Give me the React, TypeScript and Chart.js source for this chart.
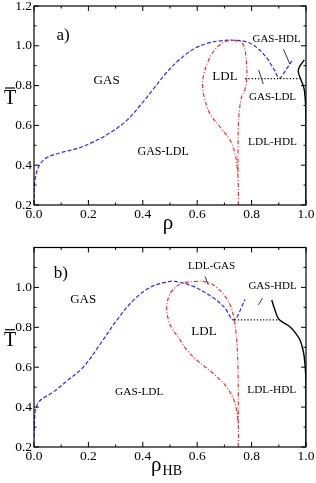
import React, { useEffect, useRef } from 'react';
import { Chart, registerables } from 'chart.js';
Chart.register(...registerables);

const FONT = "'Liberation Serif', 'DejaVu Serif', serif";

// ---------- Panel a data ----------
const aBlueX = [0.0, 0.001, 0.007, 0.02, 0.047, 0.096, 0.157, 0.218, 0.279, 0.341, 0.39, 0.439, 0.488, 0.537, 0.586, 0.635, 0.684, 0.733, 0.782, 0.82, 0.855, 0.885, 0.902, 0.929, 0.953];
const aBlueY = [0.205, 0.29, 0.35, 0.40, 0.438, 0.462, 0.483, 0.517, 0.562, 0.625, 0.70, 0.783, 0.867, 0.933, 0.983, 1.012, 1.025, 1.028, 1.02, 0.99, 0.94, 0.875, 0.837, 0.885, 0.935];
const aRedX = [0.751, 0.751, 0.747, 0.739, 0.721, 0.684, 0.647, 0.629, 0.62, 0.622, 0.641, 0.672, 0.705, 0.727, 0.763, 0.776, 0.782, 0.782, 0.776, 0.763, 0.755, 0.751, 0.75, 0.75];
const aRedY = [0.2, 0.30, 0.39, 0.458, 0.525, 0.592, 0.658, 0.725, 0.792, 0.842, 0.925, 0.992, 1.022, 1.028, 1.017, 0.975, 0.892, 0.833, 0.783, 0.742, 0.675, 0.592, 0.475, 0.35];
const aDotX = [0.776, 0.978];
const aDotY = [0.835, 0.835];
const aBlackX = [0.994, 0.975, 0.972, 0.98, 0.99, 0.995, 0.999, 1.0, 1.0];
const aBlackY = [0.929, 0.892, 0.867, 0.834, 0.80, 0.767, 0.692, 0.6, 0.2];

// ---------- Panel b data ----------
const bBlueX = [0.0, 0.002, 0.006, 0.022, 0.071, 0.12, 0.181, 0.243, 0.304, 0.365, 0.426, 0.488, 0.52, 0.586, 0.659, 0.70, 0.735, 0.776];
const bBlueY = [0.25, 0.33, 0.39, 0.432, 0.476, 0.53, 0.60, 0.715, 0.835, 0.935, 1.0, 1.027, 1.03, 1.005, 0.948, 0.90, 0.837, 0.94];
const bRedX = [0.751, 0.751, 0.739, 0.708, 0.659, 0.598, 0.56, 0.537, 0.505, 0.494, 0.488, 0.497, 0.512, 0.535, 0.561, 0.60, 0.622, 0.65, 0.672, 0.70, 0.72, 0.733, 0.742, 0.747, 0.75, 0.751, 0.751];
const bRedY = [0.2, 0.30, 0.418, 0.501, 0.569, 0.636, 0.69, 0.736, 0.80, 0.837, 0.90, 0.96, 0.99, 1.015, 1.026, 1.03, 1.03, 1.02, 1.0, 0.96, 0.915, 0.86, 0.78, 0.70, 0.58, 0.45, 0.30];
const bDotX = [0.737, 0.90];
const bDotY = [0.837, 0.837];
const bBlackX = [0.874, 0.885, 0.898, 0.915, 0.941, 0.962, 0.978, 0.99, 0.996, 1.0, 1.0];
const bBlackY = [0.937, 0.89, 0.845, 0.825, 0.803, 0.77, 0.736, 0.68, 0.62, 0.52, 0.2];

// ---------- ticks ----------
const xTickValues = [0.0, 0.2, 0.4, 0.6, 0.8, 1.0];
const yTickValuesA = [0.2, 0.4, 0.6, 0.8, 1.0, 1.2];
const yTickValuesB = [0.2, 0.4, 0.6, 0.8, 1.0];

// ---------- annotations ----------
const aLabels = [
  { t: 'a)', x: 0.107, y: 1.05, s: 17 },
  { t: 'GAS', x: 0.267, y: 0.825, s: 13 },
  { t: 'GAS-LDL', x: 0.475, y: 0.467, s: 12 },
  { t: 'LDL', x: 0.702, y: 0.845, s: 13 },
  { t: 'GAS-HDL', x: 0.892, y: 1.033, s: 11 },
  { t: 'GAS-LDL', x: 0.877, y: 0.742, s: 11 },
  { t: 'LDL-HDL', x: 0.877, y: 0.517, s: 11.3 },
];
const bLabels = [
  { t: 'b)', x: 0.099, y: 1.07, s: 17 },
  { t: 'GAS', x: 0.181, y: 0.937, s: 13 },
  { t: 'LDL-GAS', x: 0.653, y: 1.108, s: 11 },
  { t: 'GAS-HDL', x: 0.877, y: 1.008, s: 11 },
  { t: 'LDL', x: 0.625, y: 0.778, s: 13 },
  { t: 'GAS-LDL', x: 0.387, y: 0.476, s: 11.3 },
  { t: 'LDL-HDL', x: 0.874, y: 0.485, s: 11.3 },
];
const aPointers = [
  [0.917, 0.983, 0.941, 0.908],
  [0.826, 0.878, 0.843, 0.808],
];
const bPointers = [
  [0.629, 1.054, 0.641, 1.013],
  [0.84, 0.946, 0.825, 0.912],
];

const zip = (xs: number[], ys: number[]) => xs.map((x, i) => ({ x, y: ys[i] }));

type PanelDef = {
  height: number;
  padTop: number;
  xHeight: number;
  yTicks: number[];
  blue: [number[], number[]];
  red: [number[], number[]];
  dot: [number[], number[]];
  black: [number[], number[]];
  labels: { t: string; x: number; y: number; s: number }[];
  pointers: number[][];
  sub: string;
};

const panels: PanelDef[] = [
  { height: 240, padTop: 6, xHeight: 35, yTicks: yTickValuesA, blue: [aBlueX, aBlueY], red: [aRedX, aRedY], dot: [aDotX, aDotY], black: [aBlackX, aBlackY], labels: aLabels, pointers: aPointers, sub: '' },
  { height: 243, padTop: 7.5, xHeight: 36, yTicks: yTickValuesB, blue: [bBlueX, bBlueY], red: [bRedX, bRedY], dot: [bDotX, bDotY], black: [bBlackX, bBlackY], labels: bLabels, pointers: bPointers, sub: 'HB' },
];

function decorPlugin(p: PanelDef) {
  return {
    id: 'decor',
    afterDatasetsDraw(chart: any) {
      const ctx = chart.ctx as CanvasRenderingContext2D;
      const xs = chart.scales.x;
      const ys = chart.scales.y;
      const { left, right, top, bottom } = chart.chartArea;
      ctx.save();
      // frame
      ctx.strokeStyle = '#000';
      ctx.lineWidth = 1.2;
      ctx.strokeRect(left, top, right - left, bottom - top);
      // ticks
      ctx.lineWidth = 1;
      ctx.beginPath();
      for (let i = 0; i <= 10; i++) {
        const v = i / 10;
        const px = xs.getPixelForValue(v);
        const len = i % 2 === 0 ? 5 : 2.5;
        ctx.moveTo(px, bottom); ctx.lineTo(px, bottom - len);
        ctx.moveTo(px, top); ctx.lineTo(px, top + len);
      }
      for (let i = 0; i <= 10; i++) {
        const v = 0.2 + i / 10;
        const py = ys.getPixelForValue(v);
        const len = i % 2 === 0 ? 5 : 2.5;
        ctx.moveTo(left, py); ctx.lineTo(left + len, py);
        ctx.moveTo(right, py); ctx.lineTo(right - len, py);
      }
      ctx.stroke();
      // pointers
      ctx.lineWidth = 0.8;
      ctx.beginPath();
      p.pointers.forEach(([x1, y1, x2, y2]) => {
        ctx.moveTo(xs.getPixelForValue(x1), ys.getPixelForValue(y1));
        ctx.lineTo(xs.getPixelForValue(x2), ys.getPixelForValue(y2));
      });
      ctx.stroke();
      // labels
      ctx.fillStyle = '#000';
      ctx.textAlign = 'center';
      ctx.textBaseline = 'middle';
      p.labels.forEach((l) => {
        ctx.font = `${l.s}px ${FONT}`;
        ctx.fillText(l.t, xs.getPixelForValue(l.x), ys.getPixelForValue(l.y));
      });
      // x title
      const cx = (left + right) / 2;
      const ty = bottom + 18;
      ctx.textBaseline = 'middle';
      if (p.sub) {
        ctx.font = `21px ${FONT}`;
        const w1 = ctx.measureText('ρ').width;
        ctx.font = `14px ${FONT}`;
        const w2 = ctx.measureText(p.sub).width;
        const x0 = cx - (w1 + w2) / 2 - 4;
        ctx.textAlign = 'left';
        ctx.font = `21px ${FONT}`;
        ctx.fillText('ρ', x0, ty);
        ctx.font = `14px ${FONT}`;
        ctx.fillText(p.sub, x0 + w1 + 1, ty + 6);
      } else {
        ctx.font = `21px ${FONT}`;
        ctx.textAlign = 'center';
        ctx.fillText('ρ', cx - 2, ty);
      }
      // y title with overline
      const yc = (top + bottom) / 2 - 9;
      ctx.textAlign = 'center';
      ctx.font = `20px ${FONT}`;
      ctx.fillText('T', 10, yc + 2);
      ctx.lineWidth = 1.2;
      ctx.beginPath();
      ctx.moveTo(5, yc - 8.5);
      ctx.lineTo(15, yc - 8.5);
      ctx.stroke();
      ctx.restore();
    },
  };
}

function makeConfig(p: PanelDef): any {
  const line = (xy: [number[], number[]], color: string, dash: number[], width: number) => ({
    data: zip(xy[0], xy[1]),
    borderColor: color,
    borderWidth: width,
    borderDash: dash,
    pointRadius: 0,
    tension: 0.35,
    fill: false,
  });
  return {
    type: 'line',
    data: {
      datasets: [
        line(p.dot, '#000', [1.2, 2], 1.2),
        line(p.black, '#000', [], 1.4),
        line(p.red, '#ff2a2a', [4, 2, 1, 2], 1.2),
        line(p.blue, '#2a2aff', [4, 2], 1.2),
      ],
    },
    options: {
      responsive: false,
      animation: false,
      events: [],
      layout: { padding: { top: p.padTop, right: 10, left: 0, bottom: 0 } },
      plugins: { legend: { display: false }, tooltip: { enabled: false } },
      scales: {
        x: {
          type: 'linear',
          min: 0,
          max: 1,
          grid: { display: false, drawTicks: false },
          border: { display: false },
          afterBuildTicks: (s: any) => { s.ticks = xTickValues.map((v) => ({ value: v })); },
          afterFit: (s: any) => { s.height = p.xHeight; s.paddingLeft = 0; s.paddingRight = 0; },
          ticks: {
            padding: 1,
            maxRotation: 0,
            autoSkip: false,
            color: '#000',
            font: { family: FONT, size: 13.5 },
            callback: (v: number) => v.toFixed(1),
          },
        },
        y: {
          type: 'linear',
          min: 0.2,
          max: 1.2,
          grid: { display: false, drawTicks: false },
          border: { display: false },
          afterBuildTicks: (s: any) => { s.ticks = p.yTicks.map((v) => ({ value: v })); },
          afterFit: (s: any) => { s.width = 34; s.paddingTop = 0; s.paddingBottom = 0; },
          ticks: {
            padding: 2,
            autoSkip: false,
            color: '#000',
            font: { family: FONT, size: 13.5 },
            callback: (v: number) => v.toFixed(1),
          },
        },
      },
    },
    plugins: [decorPlugin(p)],
  };
}

function Panel({ p }: { p: PanelDef }) {
  const ref = useRef<HTMLCanvasElement>(null);
  useEffect(() => {
    const chart = new Chart(ref.current as HTMLCanvasElement, makeConfig(p));
    return () => chart.destroy();
  }, []);
  return <canvas ref={ref} width={316} height={p.height} style={{ display: 'block', width: 316, height: p.height }} />;
}

export default function App() {
  return (
    <div style={{ position: 'absolute', left: 0, top: 0, width: 316, height: 483, background: '#fff' }}>
      {panels.map((p, i) => (
        <Panel key={i} p={p} />
      ))}
    </div>
  );
}
